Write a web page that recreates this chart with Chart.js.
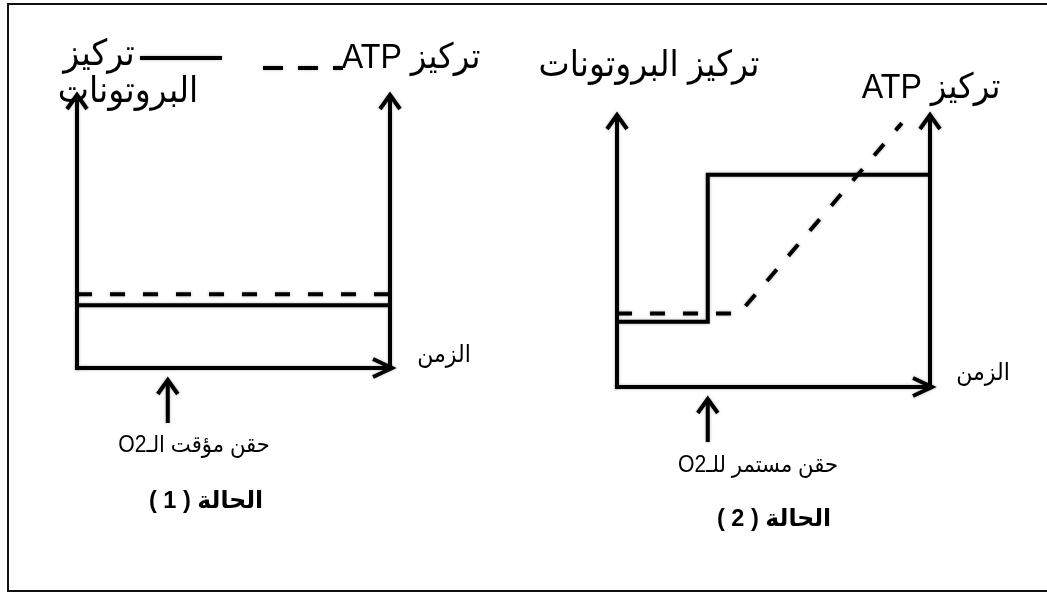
<!DOCTYPE html>
<html><head><meta charset="utf-8">
<script src="https://cdn.jsdelivr.net/npm/chart.js@4.4.1/dist/chart.umd.min.js"></script>
<style>
html,body{margin:0;padding:0;background:#fff;}
#page{position:relative;width:1047px;height:592px;overflow:hidden;background:#fff;}
#frame{position:absolute;left:7px;top:3px;width:1045px;height:585px;border-left:2px solid #111;border-top:2px solid #111;border-bottom:2px solid #111;}
canvas{position:absolute;top:0;}
</style></head><body>
<div id="page"><div id="frame"></div>
<canvas id="c1" width="520" height="592" style="left:0"></canvas>
<canvas id="c2" width="527" height="592" style="left:520px"></canvas>
</div>
<script>
// ---- data (time and concentration in arbitrary units 0..10) ----
const timeMin = 0, timeMax = 10;
const concMin = 0, concMax = 10;
// Case 1: temporary O2 injection
const case1Time    = [0, 10];
const case1Protons = [2.3, 2.3];
const case1ATP     = [2.7, 2.7];
const case1O2Time  = 2.9;
// Case 2: continuous O2 injection
const case2ProtonTime = [0, 2.9, 2.9, 10];
const case2Protons    = [2.4, 2.4, 7.8, 7.8];
const case2ATPTime    = [0, 3.9, 9.1];
const case2ATP        = [2.7, 2.7, 9.7];
const case2O2Time     = 2.9;
// labels
const labelProtons  = 'تركيز البروتونات';
const labelProtons1 = 'تركيز';
const labelProtons2 = 'البروتونات';
const labelATP      = 'تركيز ATP';
const labelTime     = 'الزمن';
const labelO2Case1  = 'حقن مؤقت الـO2';
const labelO2Case2  = 'حقن مستمر للـO2';
const labelCase1    = 'الحالة ( 1 )';
const labelCase2    = 'الحالة ( 2 )';

const FONT = '"Liberation Sans", Arial, "DejaVu Sans", sans-serif';
const DASH = [15, 18];

function pts(xs, ys){ return xs.map((x,i)=>({x:x, y:ys[i]})); }

function txt(ctx, s, x, y, size, bold, sx){
  ctx.save();
  ctx.translate(x, y);
  ctx.scale(sx || 1, 1);
  ctx.direction = 'rtl';
  ctx.textAlign = 'center';
  ctx.textBaseline = 'middle';
  ctx.fillStyle = '#000';
  ctx.font = (bold ? 'bold ' : '') + size + 'px ' + FONT;
  ctx.fillText(s, 0, 0);
  ctx.restore();
}
function seg(ctx, x1, y1, x2, y2, w, dash){
  ctx.save();
  ctx.strokeStyle = '#000';
  ctx.lineWidth = w;
  ctx.setLineDash(dash || []);
  ctx.beginPath(); ctx.moveTo(x1, y1); ctx.lineTo(x2, y2); ctx.stroke();
  ctx.restore();
}
function arrowUp(ctx, x, yTip, yBottom, w, wx, wy){
  ctx.save();
  ctx.strokeStyle = '#000'; ctx.lineWidth = w; ctx.lineJoin = 'miter'; ctx.lineCap = 'butt';
  ctx.shadowColor = 'rgba(0,0,0,0.3)'; ctx.shadowBlur = 3;
  ctx.beginPath(); ctx.moveTo(x, yBottom); ctx.lineTo(x, yTip + 2); ctx.stroke();
  ctx.beginPath(); ctx.moveTo(x - wx, yTip + wy); ctx.lineTo(x, yTip); ctx.lineTo(x + wx, yTip + wy); ctx.stroke();
  ctx.restore();
}
function arrowRight(ctx, xStart, xTip, y, w){
  ctx.save();
  ctx.strokeStyle = '#000'; ctx.lineWidth = w; ctx.lineJoin = 'miter';
  ctx.shadowColor = 'rgba(0,0,0,0.3)'; ctx.shadowBlur = 3;
  ctx.beginPath(); ctx.moveTo(xStart, y); ctx.lineTo(xTip - 2, y); ctx.stroke();
  ctx.beginPath(); ctx.moveTo(xTip - 19, y - 9); ctx.lineTo(xTip, y); ctx.lineTo(xTip - 19, y + 9); ctx.stroke();
  ctx.restore();
}

const diagramPlugin = {
  id: 'diagram',
  beforeDatasetsDraw(chart){
    const ctx = chart.ctx;
    ctx.save();
    ctx.shadowColor = 'rgba(0,0,0,0.3)'; ctx.shadowBlur = 3;
  },
  afterDatasetsDraw(chart){
    chart.ctx.restore();
  },
  afterDraw(chart, args, opts){
    const ctx = chart.ctx;
    const a = chart.chartArea;
    const xs = chart.scales.x;
    // axes
    arrowUp(ctx, a.left, a.top, a.bottom + 2, 4, 10, 14);
    arrowUp(ctx, a.right, a.top, a.bottom + 2, 4, 10, 14);
    arrowRight(ctx, a.left - 2, a.right + 2, a.bottom, 4);
    // O2 injection arrow
    const ox = xs.getPixelForValue(opts.o2);
    arrowUp(ctx, ox, a.bottom + 12, a.bottom + 55, 4, 10, 14);
    // texts
    opts.texts.forEach(t => txt(ctx, t[0], t[1], t[2], t[3], t[4], t[5]));
    if (opts.legend) {
      ctx.save();
      ctx.shadowColor = 'rgba(0,0,0,0.3)'; ctx.shadowBlur = 3;
      seg(ctx, 140, 58, 222, 58, 4);
      seg(ctx, 263, 68, 343, 68, 4, [20, 15]);
      ctx.restore();
    }
  }
};

function makeChart(id, protonT, protonV, atpT, atpV, pad, o2, texts, legend){
  return new Chart(document.getElementById(id), {
    type: 'scatter',
    data: { datasets: [
      { label: labelProtons, data: pts(protonT, protonV), showLine: true, borderColor: '#000', borderWidth: 4,
        pointRadius: 0, tension: 0, clip: false, fill: false, borderJoinStyle: 'miter' },
      { label: labelATP, data: pts(atpT, atpV), showLine: true, borderColor: '#000', borderWidth: 4,
        borderDash: DASH, pointRadius: 0, tension: 0, clip: false, fill: false }
    ]},
    options: {
      responsive: false, animation: false, events: [],
      layout: { padding: pad },
      scales: {
        x: { type: 'linear', min: timeMin, max: timeMax, display: false },
        y: { type: 'linear', min: concMin, max: concMax, display: false }
      },
      plugins: { legend: { display: false }, tooltip: { enabled: false },
        diagram: { o2: o2, texts: texts, legend: legend } }
    },
    plugins: [diagramPlugin]
  });
}

makeChart('c1', case1Time, case1Protons, case1Time, case1ATP,
  { left: 77, right: 130, top: 95, bottom: 224 }, case1O2Time,
  [
    [labelProtons1, 99, 55, 36, false, 0.92],
    [labelProtons2, 128, 92, 36, false, 0.92],
    [labelATP, 411, 58, 35, false, 0.92],
    [labelTime, 444, 355, 24, false, 0.92],
    [labelO2Case1, 194, 446, 23, false, 0.92],
    [labelCase1, 206, 501, 24, true, 0.98]
  ], true);

makeChart('c2', case2ProtonTime, case2Protons, case2ATPTime, case2ATP,
  { left: 97, right: 117, top: 115, bottom: 205 }, case2O2Time,
  [
    [labelProtons, 129, 66, 36, false, 0.92],
    [labelATP, 411, 88, 35, false, 0.92],
    [labelTime, 463, 373, 24, false, 0.92],
    [labelO2Case2, 238, 466, 23, false, 0.92],
    [labelCase2, 254, 519, 24, true, 0.98]
  ], false);
</script>
</body></html>
